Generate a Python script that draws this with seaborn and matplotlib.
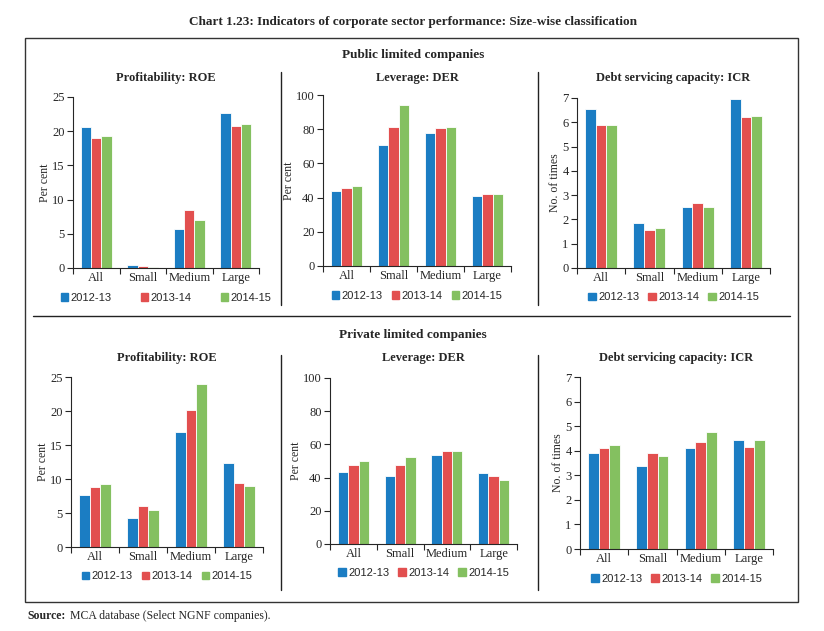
import matplotlib
matplotlib.use("Agg")
import matplotlib.pyplot as plt
import pandas as pd
import seaborn as sns
from matplotlib.patches import Rectangle
from matplotlib.lines import Line2D

sns.set_style("ticks")
plt.rcParams['font.family'] = ['Liberation Serif', 'DejaVu Serif']

# data
sizes = ["All", "Small", "Medium", "Large"]
years = ["2012-13", "2013-14", "2014-15"]
colors = ["#1b7dc3", "#e24f4f", "#84c060"]

pub_roe = {"2012-13": [20.6, 0.5, 5.7, 22.7],
           "2013-14": [19.0, 0.3, 8.5, 20.8],
           "2014-15": [19.3, 0.15, 7.0, 21.1]}
pub_der = {"2012-13": [44.0, 71.0, 77.8, 40.8],
           "2013-14": [45.9, 81.0, 80.5, 42.3],
           "2014-15": [46.6, 94.1, 81.1, 42.2]}
pub_icr = {"2012-13": [6.56, 1.85, 2.52, 6.97],
           "2013-14": [5.90, 1.57, 2.68, 6.23],
           "2014-15": [5.90, 1.66, 2.52, 6.27]}
pvt_roe = {"2012-13": [7.7, 4.2, 16.9, 12.4],
           "2013-14": [8.8, 6.0, 20.1, 9.35],
           "2014-15": [9.2, 5.5, 23.9, 8.9]}
pvt_der = {"2012-13": [43.1, 40.9, 53.5, 42.7],
           "2013-14": [47.5, 47.5, 55.9, 40.9],
           "2014-15": [49.7, 52.3, 55.9, 38.5]}
pvt_icr = {"2012-13": [3.91, 3.38, 4.12, 4.44],
           "2013-14": [4.10, 3.91, 4.36, 4.15],
           "2014-15": [4.23, 3.79, 4.77, 4.44]}

W, H = 824, 631
fig = plt.figure(figsize=(W / 100, H / 100), dpi=100)


def rect(l, t, r, b):
    return [l / W, 1 - b / H, (r - l) / W, (b - t) / H]


def tidy(d):
    rows = []
    for y in years:
        for s, v in zip(sizes, d[y]):
            rows.append({"size": s, "year": y, "value": v})
    return pd.DataFrame(rows)


# data, axes box (px), ymax, step, ylabel, title, title y (px), legend col spacing
panels = [
    (pub_roe, (73, 97, 259, 268), 25, 5, "Per cent", "Profitability: ROE", 78, 2.6),
    (pub_der, (323, 95, 511, 266), 100, 20, "Per cent", "Leverage: DER", 78, 0.8),
    (pub_icr, (577, 98, 770, 268), 7, 1, "No. of times", "Debt servicing capacity: ICR", 78, 0.8),
    (pvt_roe, (71, 377, 263, 547), 25, 5, "Per cent", "Profitability: ROE", 358, 0.8),
    (pvt_der, (330, 378, 517, 544), 100, 20, "Per cent", "Leverage: DER", 358, 0.8),
    (pvt_icr, (580, 377, 773, 549), 7, 1, "No. of times", "Debt servicing capacity: ICR", 358, 0.8),
]

for data, box, ymax, step, ylab, title, ty, colsp in panels:
    ax = fig.add_axes(rect(*box))
    df = tidy(data)
    sns.barplot(data=df, x="size", y="value", hue="year", palette=colors,
                width=0.66, saturation=1, edgecolor="white", linewidth=0.6, ax=ax)
    ax.set_xlim(-0.5, 3.5)
    ax.set_ylim(0, ymax)
    ax.set_yticks(range(0, ymax + 1, step))
    ax.set_xticks(range(4))
    ax.set_xticklabels(sizes)
    ax.set_xticks([-0.5, 0.5, 1.5, 2.5, 3.5], minor=True)
    ax.tick_params(axis="x", which="major", length=0, labelsize=9, pad=3)
    ax.tick_params(axis="x", which="minor", length=4, width=0.8, direction="out")
    ax.tick_params(axis="y", length=4, width=0.8, labelsize=9, pad=2)
    ax.set_xlabel("")
    ax.set_ylabel(ylab, fontsize=8.5, labelpad=1)
    sns.despine(ax=ax)
    for sp in ax.spines.values():
        sp.set_linewidth(0.8)
    handles = [Rectangle((0, 0), 1, 1, color=c) for c in colors]
    ax.legend(handles, years, loc="upper center", bbox_to_anchor=(0.5, -0.085),
              ncol=3, frameon=False, handlelength=0.7, handleheight=0.7,
              handletextpad=0.2, columnspacing=colsp,
              prop={"family": "Liberation Sans", "size": 8})
    l, t, r, b = box
    fig.text((l + r) / 2 / W, 1 - ty / H, title, ha="center", va="center",
             fontsize=9, fontweight="bold")

# header and frame
fig.text(413 / W, 1 - 22 / H, "Chart 1.23: Indicators of corporate sector performance: Size-wise classification",
         ha="center", va="center", fontsize=9.5, fontweight="bold")
fig.text(413 / W, 1 - 55 / H, "Public limited companies", ha="center", va="center",
         fontsize=9.5, fontweight="bold")
fig.text(413 / W, 1 - 335 / H, "Private limited companies", ha="center", va="center",
         fontsize=9.5, fontweight="bold")
fig.text(27 / W, 1 - 616 / H, "Source:", ha="left", va="center", fontsize=8.5, fontweight="bold")
fig.text(70 / W, 1 - 616 / H, "MCA database (Select NGNF companies).", ha="left", va="center",
         fontsize=8.5)

frame = Rectangle((25 / W, 1 - 602 / H), 773 / W, 564 / H, transform=fig.transFigure,
                  fill=False, edgecolor="#333333", linewidth=1)
fig.add_artist(frame)
lines = [
    ((33, 790), (316, 316)),
    ((281, 281), (72, 305)),
    ((538, 538), (72, 305)),
    ((281, 281), (355, 590)),
    ((538, 538), (355, 590)),
]
for xs, ys in lines:
    fig.add_artist(Line2D([x / W for x in xs], [1 - y / H for y in ys],
                          transform=fig.transFigure, color="#222222", linewidth=1))

fig.savefig("out.png", dpi=100)
